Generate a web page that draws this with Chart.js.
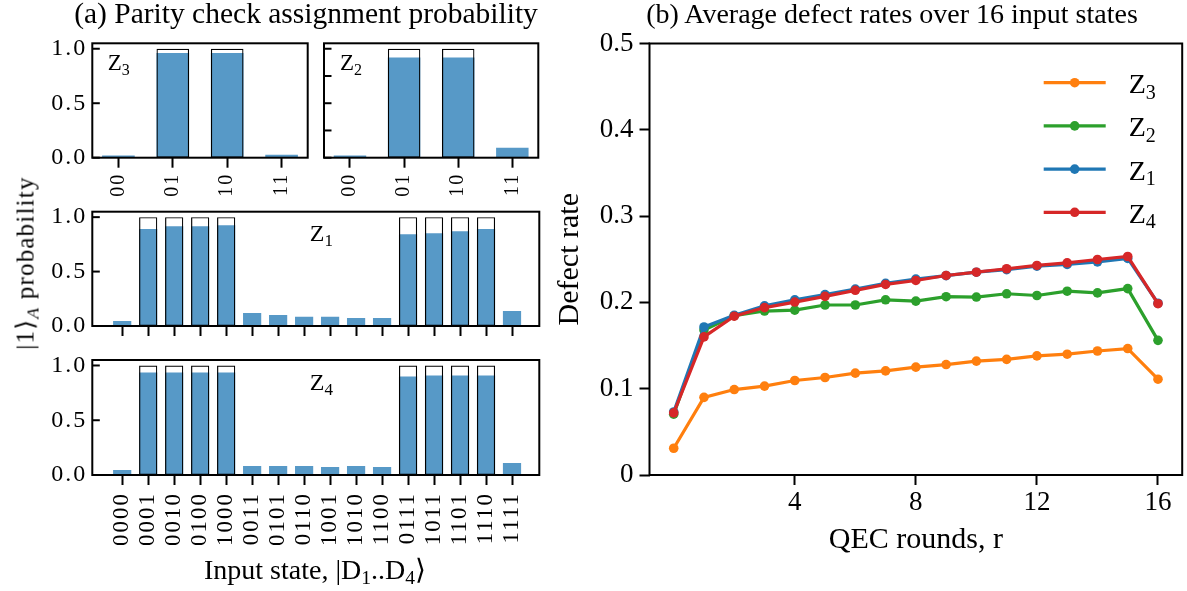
<!DOCTYPE html>
<html><head><meta charset="utf-8">
<script src="https://cdn.jsdelivr.net/npm/chart.js@4.4.1/dist/chart.umd.min.js"></script>
<style>
html,body{margin:0;padding:0;background:#fff;}
#wrap{position:relative;width:1187px;height:591px;overflow:hidden;font-family:"Liberation Serif","Times New Roman",serif;color:#000;}
#wrap canvas{position:absolute;left:0;top:0;}
.txt{position:absolute;white-space:nowrap;line-height:1;}
.sb{font-size:0.7em;position:relative;top:0.28em;}
</style></head><body>
<div id="wrap">
<canvas id="cZ3" width="1187" height="591"></canvas>
<canvas id="cZ2" width="1187" height="591"></canvas>
<canvas id="cZ1" width="1187" height="591"></canvas>
<canvas id="cZ4" width="1187" height="591"></canvas>
<canvas id="cR" width="1187" height="591"></canvas>
<div class="txt" id="tA" style="font-size:29.5px;left:306px;top:-1px;transform:translateX(-50%);">(a) Parity check assignment probability</div>
<div class="txt" id="tB" style="font-size:28px;left:892px;top:0px;transform:translateX(-50%);">(b) Average defect rates over 16 input states</div>
<div class="txt" id="yL" style="font-size:25px;letter-spacing:1.2px;left:25px;top:263px;transform:translate(-50%,-50%) rotate(-90deg);">|1⟩<span class="sb"><i>A</i></span> probability</div>
<div class="txt" id="xL" style="font-size:28px;left:315px;top:556px;transform:translateX(-50%);">Input state, |D<span class="sb">1</span>..D<span class="sb">4</span>⟩</div>
</div>
<script>
// ---------- data ----------
const states2 = ['00', '01', '10', '11'];
const states4 = ['0000','0001','0010','0100','1000','0011','0101','0110','1001','1010','1100','0111','1011','1101','1110','1111'];
const ideal2 = [0, 1, 1, 0];
const ideal4 = [0, 1, 1, 1, 1, 0, 0, 0, 0, 0, 0, 1, 1, 1, 1, 0];
const probZ3 = [0.020, 0.960, 0.960, 0.028];
const probZ2 = [0.020, 0.920, 0.920, 0.092];
const probZ1 = [0.046, 0.890, 0.917, 0.917, 0.926, 0.120, 0.100, 0.084, 0.084, 0.074, 0.074, 0.843, 0.853, 0.871, 0.890, 0.138];
const probZ4 = [0.045, 0.936, 0.936, 0.936, 0.936, 0.082, 0.082, 0.082, 0.073, 0.082, 0.073, 0.900, 0.909, 0.909, 0.909, 0.109];
const probTicks = [0, 0.25, 0.5, 0.75, 1.0];
const probTickText = ['0.0', '', '0.5', '', '1.0'];

const rounds = [0, 1, 2, 3, 4, 5, 6, 7, 8, 9, 10, 11, 12, 13, 14, 15, 16];
const defectZ3 = [0.031, 0.090, 0.099, 0.103, 0.1095, 0.113, 0.118, 0.1206, 0.125, 0.128, 0.132, 0.134, 0.138, 0.140, 0.1437, 0.1465, 0.111];
const defectZ2 = [0.0705, 0.168, 0.1846, 0.190, 0.191, 0.197, 0.197, 0.203, 0.2015, 0.2066, 0.2062, 0.210, 0.208, 0.213, 0.211, 0.216, 0.156];
const defectZ1 = [0.073, 0.1715, 0.185, 0.196, 0.203, 0.209, 0.2155, 0.222, 0.227, 0.231, 0.235, 0.238, 0.242, 0.244, 0.247, 0.251, 0.199];
const defectZ4 = [0.072, 0.160, 0.184, 0.194, 0.2004, 0.207, 0.214, 0.2208, 0.2254, 0.2312, 0.235, 0.239, 0.2428, 0.2459, 0.2497, 0.2532, 0.1985];
const seriesNames = ['Z3', 'Z2', 'Z1', 'Z4'];
const rateTicks = [0, 0.1, 0.2, 0.3, 0.4, 0.5];
const rateTickText = ['0', '0.1', '0.2', '0.3', '0.4', '0.5'];
const roundTicks = [4, 8, 12, 16];

// ---------- styling ----------
const FONT = "'Liberation Serif', 'Times New Roman', serif";
Chart.defaults.font.family = FONT;
Chart.defaults.color = '#000';
Chart.defaults.animation = false;
Chart.defaults.plugins.legend.display = false;
Chart.defaults.plugins.tooltip.enabled = false;
const BAR_BLUE = 'rgba(31,119,180,0.75)';
const COLORS = {Z3: '#ff7f0e', Z2: '#2ca02c', Z1: '#1f77b4', Z4: '#d62728'};
const f = size => ({family: FONT, size: size, style: 'normal', weight: 'normal'});

function drawSub(ctx, x, y, main, sub, size) {
  ctx.fillStyle = '#000';
  ctx.textBaseline = 'alphabetic';
  ctx.textAlign = 'left';
  ctx.font = size + 'px ' + FONT;
  ctx.fillText(main, x, y);
  const w = ctx.measureText(main).width;
  ctx.font = Math.round(size * 0.7) + 'px ' + FONT;
  ctx.fillText(sub, x + w, y + size * 0.2);
}

const framePlugin = {
  id: 'frame',
  beforeDraw(chart, args, o) {
    if (o && o.spacing !== undefined) chart.ctx.letterSpacing = o.spacing;
  },
  afterDraw(chart, args, o) {
    const {ctx, chartArea: a} = chart;
    ctx.save();
    ctx.letterSpacing = '0px';
    ctx.strokeStyle = '#000';
    ctx.lineWidth = 2;
    if (o.inTicks) {
      const ys = chart.scales.y;
      ys.ticks.forEach(t => {
        const y = ys.getPixelForValue(t.value);
        ctx.beginPath(); ctx.moveTo(a.left, y); ctx.lineTo(a.left + o.inTicks, y); ctx.stroke();
      });
    }
    ctx.strokeRect(a.left, a.top, a.right - a.left, a.bottom - a.top);
    if (o.note) drawSub(ctx, a.left + o.note.dx, a.top + o.note.dy, o.note.text[0], o.note.text.slice(1), o.note.size);
    ctx.restore();
  }
};

const zLegend = {
  id: 'zLegend',
  afterDraw(chart, args, o) {
    const {ctx, chartArea: a} = chart;
    ctx.save();
    chart.data.datasets.forEach((ds, k) => {
      const y = a.top + o.top + k * o.gap;
      const x1 = a.right - o.lineStart, x2 = a.right - o.lineEnd;
      ctx.strokeStyle = ds.borderColor; ctx.lineWidth = ds.borderWidth;
      ctx.beginPath(); ctx.moveTo(x1, y); ctx.lineTo(x2, y); ctx.stroke();
      ctx.fillStyle = ds.borderColor;
      ctx.beginPath(); ctx.arc((x1 + x2) / 2, y, ds.pointRadius, 0, Math.PI * 2); ctx.fill();
      drawSub(ctx, a.right - o.textStart, y + o.textDy, ds.label[0], ds.label.slice(1), o.size);
    });
    ctx.restore();
  }
};

function makeBars(id, cats, probs, ideal, name, cfg) {
  return new Chart(document.getElementById(id), {
    type: 'bar',
    data: {
      datasets: [
        {label: 'ideal', data: ideal.map((v, i) => ({x: i, y: v ? v : null})),
         backgroundColor: 'rgba(255,255,255,0)', borderColor: '#000', borderWidth: 1.2, borderSkipped: false,
         grouped: false, categoryPercentage: 1, barPercentage: cfg.barPct},
        {label: name, data: probs.map((v, i) => ({x: i, y: v})),
         backgroundColor: BAR_BLUE, borderWidth: 0, grouped: false, categoryPercentage: 1, barPercentage: cfg.barPct}
      ]
    },
    options: {
      responsive: false,
      font: f(24),
      layout: {padding: cfg.pad},
      scales: {
        x: {
          type: 'linear', min: cfg.xmin, max: cfg.xmax, offset: false,
          afterBuildTicks: s => { s.ticks = cats.map((c, i) => ({value: i})); },
          ticks: {display: cfg.xLabels, autoSkip: false, minRotation: 90, maxRotation: 90, padding: cfg.xPad,
                  font: f(cfg.xFont), color: '#000', callback: v => cats[Math.round(v)]},
          grid: {display: true, drawOnChartArea: false, drawTicks: true, tickLength: 10, tickWidth: 2, tickColor: '#000', offset: false},
          border: {display: false},
          afterFit: s => { s.height = cfg.xh; }
        },
        y: {
          min: 0, max: 1.05,
          afterBuildTicks: s => { s.ticks = probTicks.map(v => ({value: v})); },
          ticks: {display: cfg.yLabels, padding: 5, font: f(24), color: '#000', callback: (v, i) => probTickText[i]},
          grid: {display: false, drawTicks: false},
          border: {display: false},
          afterFit: s => { s.width = cfg.yw; }
        }
      },
      plugins: {frame: {inTicks: 7.5, spacing: '2px', note: {text: name, dx: cfg.noteDx, dy: cfg.noteDy, size: cfg.noteSize}}}
    },
    plugins: [framePlugin]
  });
}

// chart areas: Z3 [92.3,307.7]x[43.3,157.7]; Z2 [324,538.3]; Z1 [92.3,539.3]x[211.7,326]; Z4 [..]x[360,475]
makeBars('cZ3', states2, probZ3, ideal2, seriesNames[0], {
  barPct: 0.6, xmin: -0.48, xmax: 3.48, xLabels: true, xPad: 5, xFont: 20, xh: 40, yw: 60, yLabels: true,
  pad: {left: 32.3, top: 43.3, right: 1187 - 307.7, bottom: 591 - 157.7 - 40}, noteDx: 15.5, noteDy: 27, noteSize: 23});
makeBars('cZ2', states2, probZ2, ideal2, seriesNames[1], {
  barPct: 0.6, xmin: -0.48, xmax: 3.48, xLabels: true, xPad: 5, xFont: 20, xh: 40, yw: 10, yLabels: false,
  pad: {left: 314, top: 43.3, right: 1187 - 538.3, bottom: 591 - 157.7 - 40}, noteDx: 16, noteDy: 27, noteSize: 23});
makeBars('cZ1', states4, probZ1, ideal4, seriesNames[2], {
  barPct: 0.7, xmin: -1.15, xmax: 16.05, xLabels: false, xPad: 5, xFont: 23, xh: 12, yw: 60, yLabels: true,
  pad: {left: 32.3, top: 211.7, right: 1187 - 539.3, bottom: 591 - 326 - 12}, noteDx: 217.5, noteDy: 29, noteSize: 24});
makeBars('cZ4', states4, probZ4, ideal4, seriesNames[3], {
  barPct: 0.7, xmin: -1.15, xmax: 16.05, xLabels: true, xPad: 7, xFont: 23, xh: 70, yw: 60, yLabels: true,
  pad: {left: 32.3, top: 360, right: 1187 - 539.3, bottom: 591 - 475 - 70}, noteDx: 217.5, noteDy: 30, noteSize: 24});

const defects = [defectZ3, defectZ2, defectZ1, defectZ4];
new Chart(document.getElementById('cR'), {
  type: 'line',
  data: {
    datasets: seriesNames.map((n, k) => ({
      label: n,
      data: defects[k].map((v, i) => ({x: rounds[i], y: v})),
      borderColor: COLORS[n], backgroundColor: COLORS[n], pointBackgroundColor: COLORS[n],
      borderWidth: 3.2, pointRadius: 4.8, pointBorderWidth: 0, tension: 0, fill: false,
      order: seriesNames.length - 1 - k
    }))
  },
  options: {
    responsive: false,
    layout: {padding: {left: 540, top: 43.5, right: 1.5, bottom: 0}},
    scales: {
      x: {
        type: 'linear', min: -0.8, max: 16.8,
        afterBuildTicks: s => { s.ticks = roundTicks.map(v => ({value: v})); },
        ticks: {padding: 2, font: f(27), color: '#000', callback: v => String(v)},
        grid: {drawOnChartArea: false, drawTicks: true, tickLength: 10, tickWidth: 2, tickColor: '#000'},
        border: {display: false},
        title: {display: true, text: 'QEC rounds, r', font: f(30), color: '#000', padding: {top: 0, bottom: 33}},
        afterFit: s => { s.height = 116; }
      },
      y: {
        min: 0, max: 0.5,
        afterBuildTicks: s => { s.ticks = rateTicks.map(v => ({value: v})); },
        ticks: {padding: 6, font: f(27), color: '#000', callback: (v, i) => rateTickText[i]},
        grid: {drawOnChartArea: false, drawTicks: true, tickLength: 10, tickWidth: 2, tickColor: '#000'},
        border: {display: false},
        title: {display: true, text: 'Defect rate', font: f(30), color: '#000', padding: {top: 12, bottom: 0}},
        afterFit: s => { s.width = 109.5; }
      }
    },
    plugins: {
      frame: {inTicks: 0},
      zLegend: {top: 39.2, gap: 43.2, lineStart: 138.5, lineEnd: 76.5, textStart: 53.5, textDy: 10.5, size: 28}
    }
  },
  plugins: [framePlugin, zLegend]
});
</script>
</body></html>
